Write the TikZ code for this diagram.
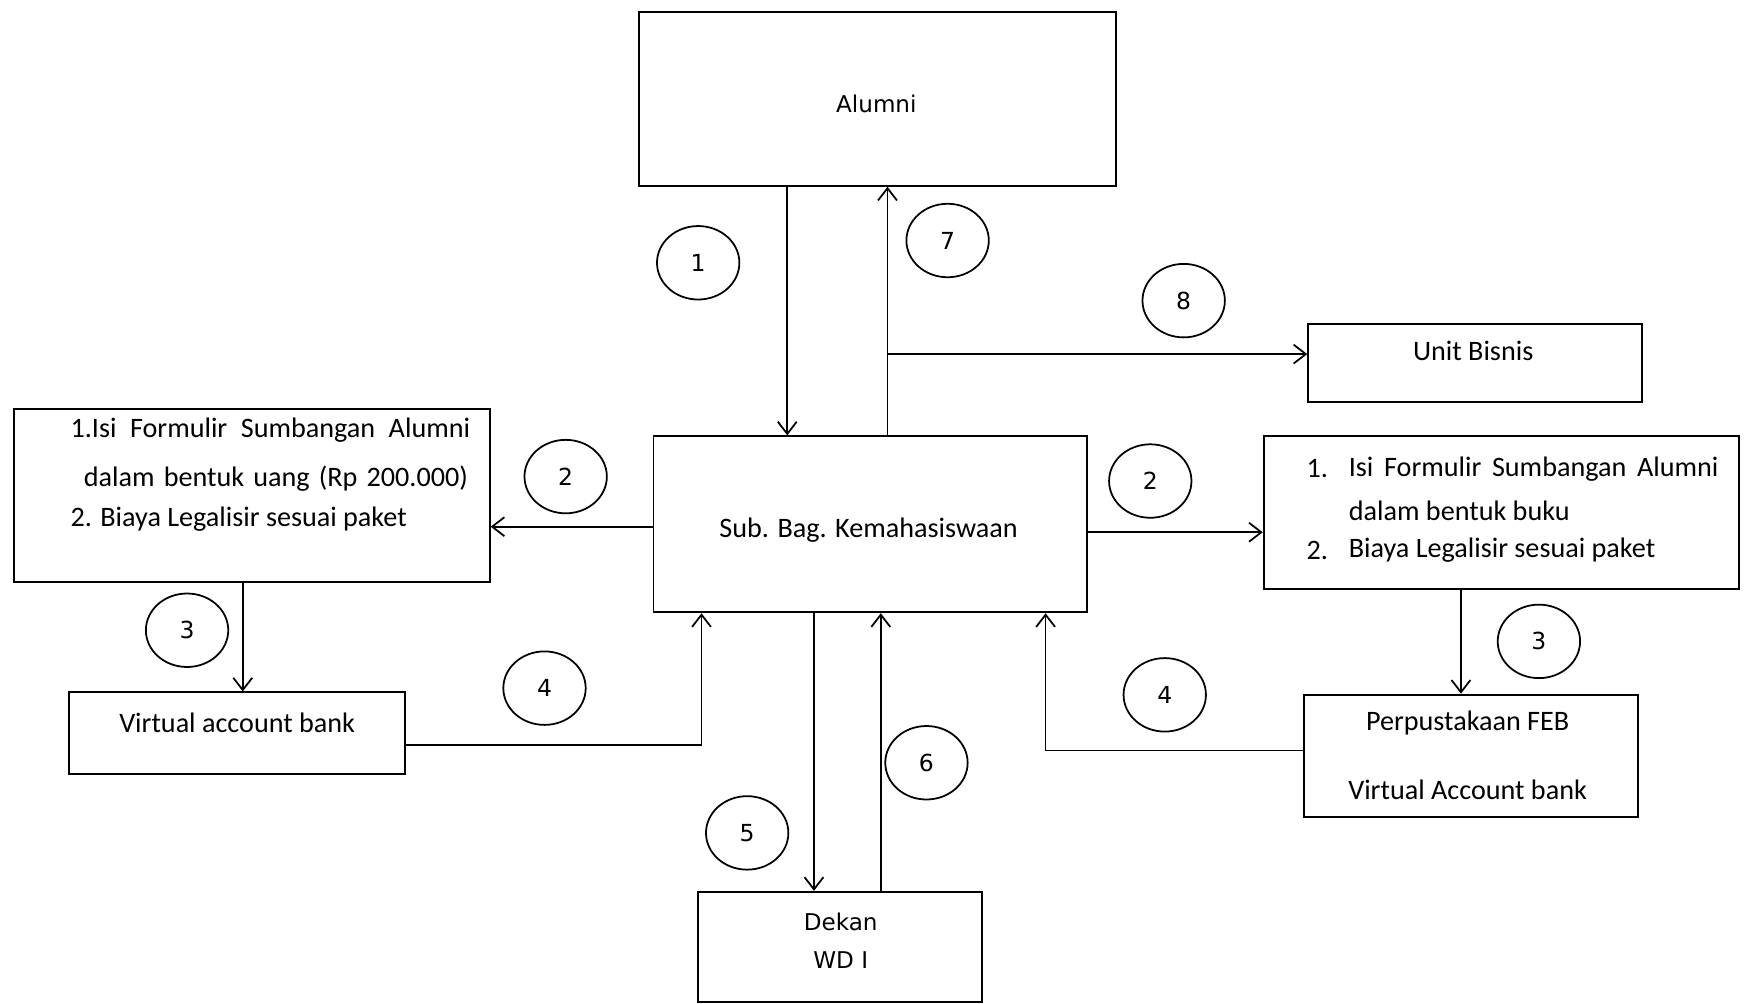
\documentclass[tikz,border=0pt]{standalone}
\usepackage{fontspec}
\setmainfont{Carlito}
\newfontfamily\numfont{DejaVu Sans}
\usetikzlibrary{arrows.meta,shapes.geometric}
\tikzset{
  box/.style={draw, line width=1pt, rectangle, inner sep=0pt, anchor=north west},
  lbl/.style={inner sep=0pt, font=\fontsize{14.4}{17}\selectfont},
  vlbl/.style={inner sep=0pt, font=\numfont\fontsize{11.8}{14}\selectfont},
  num/.style={draw, line width=0.9pt, ellipse, minimum width=1.48cm, minimum height=1.32cm, inner sep=0pt, font=\numfont\fontsize{12}{14}\selectfont},
  arr/.style={line width=0.9pt, -{Straight Barb[length=0.22cm, width=0.34cm]}},
  ln/.style={line width=0.9pt},
}
\begin{document}
\begin{tikzpicture}[x=0.02cm, y=-0.02cm]
\useasboundingbox (0,0) rectangle (1568,901);
% boxes
\node[box, minimum width=8.56cm, minimum height=3.12cm] (alumni) at (573,10) {};
\node[box, minimum width=6.0cm, minimum height=1.4cm] (unit) at (1174,290) {};
\node[box, minimum width=8.54cm, minimum height=3.12cm] (left) at (12,366) {};
\node[box, minimum width=7.78cm, minimum height=3.16cm] (sub) at (586,391) {};
\node[box, minimum width=8.54cm, minimum height=2.74cm] (right) at (1134,391) {};
\node[box, minimum width=6.04cm, minimum height=1.46cm] (vab) at (61,621) {};
\node[box, minimum width=6.0cm, minimum height=2.2cm] (perp) at (1170,623) {};
\node[box, minimum width=5.1cm, minimum height=1.98cm] (dekan) at (626,800) {};
% texts
\node[vlbl] (talumni) at (787,93) {Alumni};
\node[lbl] (tunit) at (1323,315) {Unit Bisnis};
\node[lbl] (tsub) at (780,476) {Sub. Bag. Kemahasiswaan};
\node[lbl] (tvab) at (213,649) {Virtual account bank};
\node[lbl] (tperp1) at (1318,649) {Perpustakaan FEB};
\node[lbl] (tperp2) at (1318,709) {Virtual Account bank};
\node[vlbl] (tdekan) at (755,828) {Dekan};
\node[vlbl] (twd) at (755,862) {WD I};
\node[lbl, anchor=west] (tl1) at (63,386) {\makebox[7.18cm][s]{1.Isi Formulir Sumbangan Alumni}};
\node[lbl, anchor=west] (tl2) at (75,430) {\makebox[6.9cm][s]{dalam bentuk uang (Rp 200.000)}};
\node[lbl, anchor=west] (tl3) at (63,466) {2. Biaya Legalisir sesuai paket};
\node[lbl, anchor=west] (tr1n) at (1173,421) {1.};
\node[lbl, anchor=west] (tr1) at (1211,421) {\makebox[6.64cm][s]{Isi Formulir Sumbangan Alumni}};
\node[lbl, anchor=west] (tr2) at (1211,459) {dalam bentuk buku};
\node[lbl, anchor=west] (tr3n) at (1173,494) {2.};
\node[lbl, anchor=west] (tr3) at (1211,494) {Biaya Legalisir sesuai paket};
% number circles
\node[num] (n1) at (627,236) {1};
\node[num] (n7) at (851,216) {7};
\node[num] (n8) at (1063,270) {8};
\node[num] (n2l) at (508,428) {2};
\node[num] (n2r) at (1033,432) {2};
\node[num] (n3l) at (168,566) {3};
\node[num] (n4l) at (489,618) {4};
\node[num] (n3r) at (1382,576) {3};
\node[num] (n4r) at (1046,624) {4};
\node[num] (n5) at (671,748) {5};
\node[num] (n6) at (832,685) {6};
% helper coordinates
\coordinate (c1) at (707,0);
\coordinate (c7) at (797,0);
\coordinate (j8) at (797,318);
\coordinate (c2l) at (0,473);
\coordinate (c2r) at (0,478);
\coordinate (c3l) at (218,0);
\coordinate (j4l) at (630,669);
\coordinate (c3r) at (1312,0);
\coordinate (j4r) at (939,674);
\coordinate (c5) at (731,0);
\coordinate (c6) at (791,0);
% connectors
\draw[arr] (alumni.south -| c1) -- (sub.north -| c1);
\draw[arr] (sub.north -| c7) -- (alumni.south -| c7);
\draw[arr] (j8) -- (j8 -| unit.west);
\draw[arr] (sub.west |- c2l) -- (left.east |- c2l);
\draw[arr] (sub.east |- c2r) -- (right.west |- c2r);
\draw[arr] (left.south -| c3l) -- (vab.north -| c3l);
\draw[arr] (vab.east |- j4l) -- (j4l) -- (sub.south -| j4l);
\draw[arr] (right.south -| c3r) -- (perp.north -| c3r);
\draw[arr] (perp.west |- j4r) -- (j4r) -- (sub.south -| j4r);
\draw[arr] (sub.south -| c5) -- (dekan.north -| c5);
\draw[arr] (dekan.north -| c6) -- (sub.south -| c6);
\end{tikzpicture}
\end{document}
